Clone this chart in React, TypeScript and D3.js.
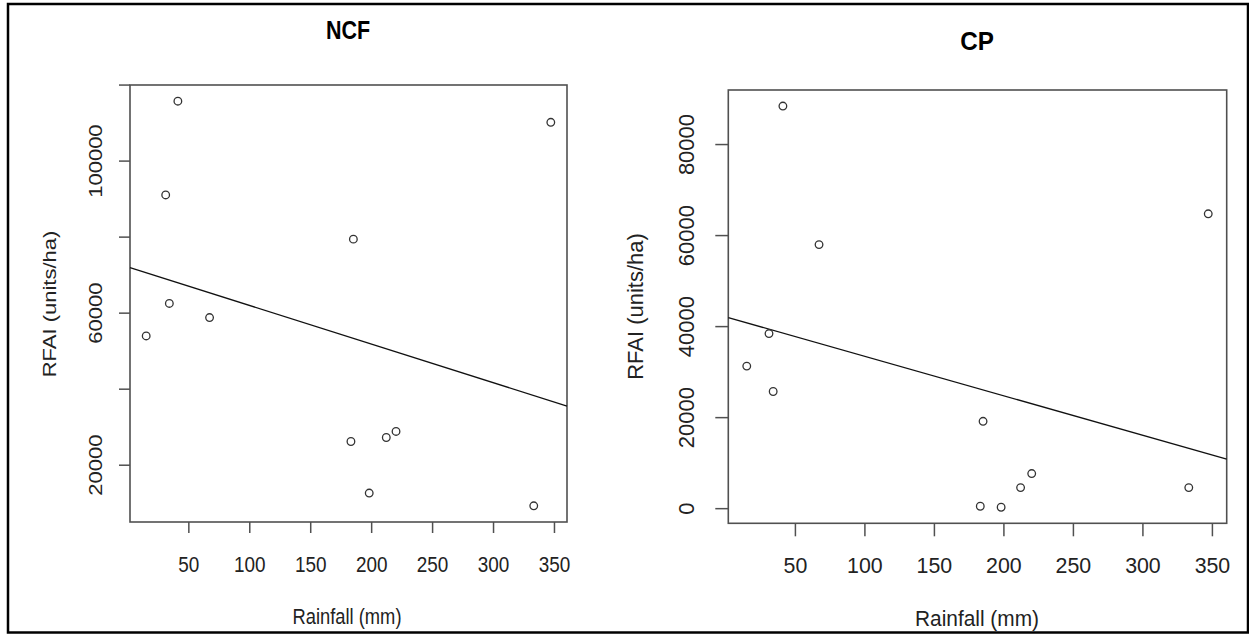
import React from "react";
import * as d3 from "d3";

// ---------- data ----------
const rainfall = [15, 31, 34, 41, 67, 183, 185, 198, 212, 220, 333, 347];
const rfaiNCF = [54000, 91100, 62550, 115760, 58850, 26240, 79470, 12680, 27290, 28880, 9320, 110200];
const rfaiCP = [31325, 38470, 25745, 88460, 58020, 530, 19190, 310, 4630, 7720, 4630, 64790];
const panelTitles = ["NCF", "CP"];
const xTicks = [50, 100, 150, 200, 250, 300, 350];
const yTicksNCF = [20000, 40000, 60000, 80000, 100000, 120000];
const yLabelsNCF = [20000, 60000, 100000];
const yTicksCP = [0, 20000, 40000, 60000, 80000];
const yLabelsCP = [0, 20000, 40000, 60000, 80000];
const xTitle = "Rainfall (mm)";
const yTitle = "RFAI (units/ha)";

// ---------- layout ----------
const W = 1249;
const H = 634;
const FONT = "'Liberation Sans', Arial, Helvetica, sans-serif";

type Layout = {
  x0: number; x1: number; y0: number; y1: number;
  tick: number; sx: number;
  titleX: number; titleY: number;
  xLabY: number; yLabX: number;
  xTitleX: number; xTitleY: number; xTitleW: number;
  yTitleX: number; yTitleY: number;
};

const layouts: Layout[] = [
  { x0: 130, x1: 567, y0: 85, y1: 522, tick: 11, sx: 0.86,
    titleX: 348, titleY: 39, xLabY: 572, yLabX: 101.5,
    xTitleX: 347, xTitleY: 624, xTitleW: 109, yTitleX: 56, yTitleY: 304 },
  { x0: 728.3, x1: 1226.7, y0: 90, y1: 523.3, tick: 13, sx: 0.97,
    titleX: 977, titleY: 50, xLabY: 572.5, yLabX: 694,
    xTitleX: 977, xTitleY: 626, xTitleW: 124, yTitleX: 643, yTitleY: 306.5 },
];

function rDomain(v: number[]): [number, number] {
  const lo = d3.min(v)!;
  const hi = d3.max(v)!;
  const r = hi - lo;
  return [lo - 0.04 * r, hi + 0.04 * r];
}

function Panel({ L, title, ys, yTicks, yLabels }: { L: Layout; title: string; ys: number[]; yTicks: number[]; yLabels: number[] }) {
  const x = d3.scaleLinear().domain(rDomain(rainfall)).range([L.x0, L.x1]);
  const y = d3.scaleLinear().domain(rDomain(ys)).range([L.y1, L.y0]);
  const mx = d3.mean(rainfall)!;
  const my = d3.mean(ys)!;
  const sxy = d3.sum(rainfall, (v, i) => (v - mx) * (ys[i] - my));
  const sxx = d3.sum(rainfall, (v) => (v - mx) * (v - mx));
  const b = sxy / sxx;
  const a = my - b * mx;
  const [dx0, dx1] = x.domain();
  const line = d3.line<number>().x((d) => x(d)).y((d) => y(a + b * d));
  const axisCol = "#505050";
  const textCol = "#222";
  return (
    <g>
      <g transform={`translate(${L.titleX},${L.titleY}) scale(${L.sx},1)`}>
        <text textAnchor="middle" fontSize={25} fontWeight="bold" fill="#000" fontFamily={FONT}>{title}</text>
      </g>
      <rect x={L.x0} y={L.y0} width={L.x1 - L.x0} height={L.y1 - L.y0} fill="none" stroke={axisCol} strokeWidth={1.6} />
      {xTicks.map((t) => (
        <g key={"xt" + t}>
          <line x1={x(t)} x2={x(t)} y1={L.y1} y2={L.y1 + L.tick} stroke={axisCol} strokeWidth={1.5} />
          <g transform={`translate(${x(t)},${L.xLabY}) scale(${L.sx},1)`}>
            <text textAnchor="middle" fontSize={22} fill={textCol} fontFamily={FONT}>{t}</text>
          </g>
        </g>
      ))}
      {yTicks.map((t) => (
        <line key={"yt" + t} x1={L.x0 - L.tick} x2={L.x0} y1={y(t)} y2={y(t)} stroke={axisCol} strokeWidth={1.5} />
      ))}
      {yLabels.map((t) => (
        <g key={"yl" + t} transform={`translate(${L.yLabX},${y(t)}) scale(${L.sx},1) rotate(-90)`}>
          <text textAnchor="middle" fontSize={22} fill={textCol} fontFamily={FONT}>{t}</text>
        </g>
      ))}
      <text x={L.xTitleX} y={L.xTitleY} textAnchor="middle" fontSize={22} fill={textCol} fontFamily={FONT}
        textLength={L.xTitleW} lengthAdjust="spacingAndGlyphs">{xTitle}</text>
      <g transform={`translate(${L.yTitleX},${L.yTitleY}) scale(${L.sx},1) rotate(-90)`}>
        <text textAnchor="middle" fontSize={22} fill={textCol} fontFamily={FONT}>{yTitle}</text>
      </g>
      <path d={line([dx0, dx1]) || ""} fill="none" stroke="#111" strokeWidth={1.3} />
      {rainfall.map((r, i) => (
        <circle key={"p" + i} cx={x(r)} cy={y(ys[i])} r={3.8} fill="none" stroke="#333" strokeWidth={1.3} />
      ))}
    </g>
  );
}

export default function App() {
  return (
    <svg width={W} height={H} style={{ position: "absolute", left: 0, top: 0, display: "block", background: "#fff" }}>
      <rect x={0} y={0} width={W} height={H} fill="#fff" />
      <rect x={8} y={4} width={1240} height={628.5} fill="none" stroke="#000" strokeWidth={2.5} />
      <Panel L={layouts[0]} title={panelTitles[0]} ys={rfaiNCF} yTicks={yTicksNCF} yLabels={yLabelsNCF} />
      <Panel L={layouts[1]} title={panelTitles[1]} ys={rfaiCP} yTicks={yTicksCP} yLabels={yLabelsCP} />
    </svg>
  );
}
